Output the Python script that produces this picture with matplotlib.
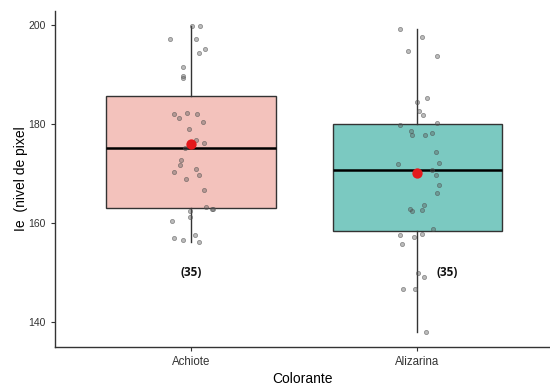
import matplotlib
matplotlib.use("Agg")
import matplotlib.pyplot as plt
import numpy as np

plt.rcParams['font.family'] = ['Liberation Sans', 'DejaVu Sans']

categories = ["Achiote", "Alizarina"]

achiote_vals = [199.8, 199.8, 197.2, 197.2, 195.2, 194.3, 191.6, 189.6, 189.2,
                182.1, 182.2, 182.1, 181.2, 180.4, 179.0, 176.8, 176.2, 175.1,
                172.8, 171.7, 170.4, 171.0, 169.7, 169.0, 166.7, 163.3, 162.9,
                162.8, 162.4, 161.3, 160.4, 157.6, 156.9, 156.5, 156.2]
achiote_jit = [0.003, 0.041, -0.093, 0.024, 0.060, 0.037, -0.034, -0.037, -0.034,
               -0.076, -0.018, 0.029, -0.053, 0.053, -0.009, 0.023, 0.056, -0.025,
               -0.044, -0.048, -0.076, 0.023, 0.034, -0.021, 0.056, 0.066, 0.098,
               0.093, -0.006, -0.006, -0.084, 0.016, -0.076, -0.034, 0.037]

alizarina_vals = [199.2, 197.6, 194.7, 193.7, 185.2, 184.4, 182.7, 181.9, 180.3,
                  179.7, 178.5, 177.8, 177.7, 178.2, 174.4, 172.1, 171.9, 170.8,
                  169.8, 167.7, 166.1, 163.6, 162.7, 162.8, 162.4, 158.9, 157.6,
                  157.2, 157.8, 155.8, 150.0, 149.1, 146.7, 146.7, 138.0]
alizarina_jit = [-0.075, 0.018, -0.044, 0.088, 0.044, -0.004, 0.008, 0.026, 0.088,
                 -0.075, -0.029, -0.025, 0.034, 0.066, 0.081, 0.093, -0.085, 0.066,
                 0.081, 0.096, 0.088, 0.031, 0.022, -0.034, -0.025, 0.069, -0.075,
                 -0.016, 0.022, -0.068, 0.003, 0.031, -0.063, -0.009, 0.038]

counts_label = ["(35)", "(35)"]
count_label_y = 150.0
count_label_dx = [0.0, 0.13]

box_colors = ["#F3C2BC", "#7BC9C1"]
ylim = (135.0, 202.8)
yticks = [140, 160, 180, 200]

fig = plt.figure(figsize=(5.5, 3.86), dpi=100)
ax = fig.add_axes([0.1, 0.101, 0.9, 0.8705])

data = [achiote_vals, alizarina_vals]
pos = [1, 2]
bp = ax.boxplot(data, positions=pos, widths=0.75, patch_artist=True,
                showfliers=False, whis=1.5, zorder=2,
                boxprops=dict(edgecolor="#333333", linewidth=1.0),
                whiskerprops=dict(color="#333333", linewidth=1.0),
                capprops=dict(linewidth=0),
                medianprops=dict(color="#000000", linewidth=1.8))
for patch, c in zip(bp['boxes'], box_colors):
    patch.set_facecolor(c)

for p, vals, jit in zip(pos, data, [achiote_jit, alizarina_jit]):
    xs = p + np.array(jit)
    ax.scatter(xs, vals, s=9, facecolor=(0.35, 0.35, 0.35, 0.4),
               edgecolor=(0.3, 0.3, 0.3, 0.55), linewidths=0.6, zorder=3)
    ax.scatter([p], [np.mean(vals)], s=55, color="#E3191C", zorder=4, linewidths=0)

for p, lab, dx in zip(pos, counts_label, count_label_dx):
    ax.text(p + dx, count_label_y, lab, ha="center", va="center",
            fontsize=8.5, fontweight="bold", family=["Open Sans", "DejaVu Sans"],
            color="#111111")

ax.set_xlim(0.4, 2.585)
ax.set_ylim(*ylim)
ax.set_yticks(yticks)
ax.set_xticks(pos)
ax.set_xticklabels(categories)
ax.tick_params(axis="both", labelsize=7.5, colors="#333333", length=3, width=0.8,
               labelcolor="#333333")
ax.tick_params(axis="x", labelsize=8.3)
for s in ["top", "right"]:
    ax.spines[s].set_visible(False)
for s in ["left", "bottom"]:
    ax.spines[s].set_color("#333333")
    ax.spines[s].set_linewidth(1.0)

ax.set_xlabel("Colorante", fontsize=10, labelpad=3)
ax.set_ylabel("Ie  (nivel de pixel", fontsize=10, labelpad=0)

fig.savefig("out.png", dpi=100)
